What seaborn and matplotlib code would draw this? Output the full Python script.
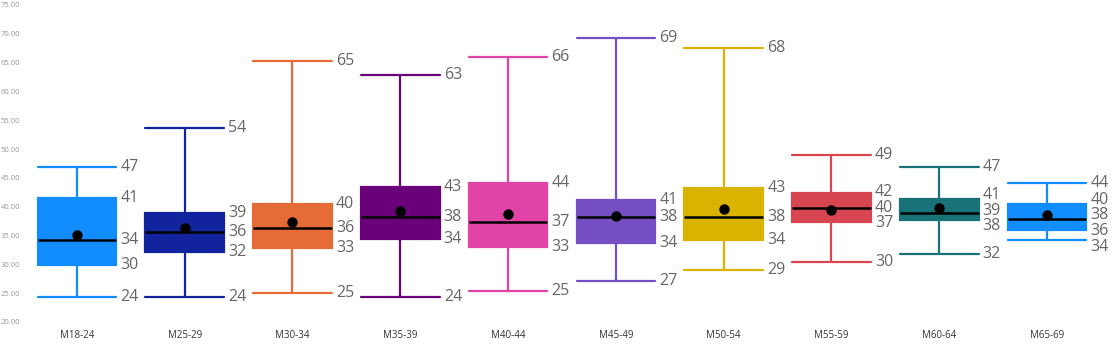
import pandas as pd
import numpy as np
import seaborn as sns
import matplotlib.pyplot as plt

groups = ["M18-24", "M25-29", "M30-34", "M35-39", "M40-44",
          "M45-49", "M50-54", "M55-59", "M60-64", "M65-69"]
whisker_low = [24.4, 24.4, 25.0, 24.4, 25.4, 27.1, 29.0, 30.4, 31.8, 34.2]
q1 = [29.9, 32.1, 32.8, 34.4, 33.0, 33.7, 34.2, 37.3, 37.7, 36.0]
median = [34.2, 35.6, 36.3, 38.2, 37.3, 38.2, 38.2, 39.8, 38.9, 37.9]
q3 = [41.45, 38.9, 40.4, 43.45, 44.1, 41.2, 43.2, 42.4, 41.3, 40.45]
whisker_high = [46.9, 53.7, 65.3, 62.9, 66.0, 69.3, 67.5, 49.0, 46.9, 44.1]
mean = [35.1, 36.3, 37.3, 39.3, 38.7, 38.4, 39.6, 39.4, 39.8, 38.6]
colors = ["#118DFF", "#12239E", "#E66C37", "#6B007B", "#E044A7",
          "#744EC2", "#D9B300", "#D64550", "#197278", "#118DFF"]

# five summary points per group -> quartiles come out exactly
rows = []
for g, lo, a, m, b, hi in zip(groups, whisker_low, q1, median, q3, whisker_high):
    for v in (lo, a, m, b, hi):
        rows.append({"group": g, "value": v})
df = pd.DataFrame(rows)
means = pd.DataFrame({"group": groups, "mean": mean})

sns.set_style("white")
plt.rcParams["font.family"] = ["Open Sans", "DejaVu Sans"]

fig = plt.figure(figsize=(11.17, 3.53), dpi=100)
ax = fig.add_axes([0.0206, 0.088, 0.965, 0.898])

width = 0.73
for g, c in zip(groups, colors):
    sns.boxplot(
        data=df[df["group"] == g], x="group", y="value", order=groups,
        color=c, linecolor=c, saturation=1, width=width, whis=np.inf,
        linewidth=1.6, capwidths=width, fliersize=0,
        medianprops={"color": "black", "linewidth": 1.8},
        ax=ax,
    )

sns.stripplot(data=means, x="group", y="mean", order=groups, jitter=False,
              color="black", size=7.5, zorder=5, ax=ax)


def spread(vals, gap):
    vals = sorted(vals, reverse=True)
    pos = list(vals)
    for _ in range(40):
        for k in range(len(pos) - 1):
            d = pos[k] - pos[k + 1]
            if d < gap:
                s = (gap - d) / 2
                pos[k] += s
                pos[k + 1] -= s
    return list(zip(vals, pos))


for i in range(len(groups)):
    vals = [whisker_high[i], q3[i], median[i], q1[i], whisker_low[i]]
    for v, p in spread(vals, 2.7):
        ax.annotate(f"{v:.0f}", xy=(i + width / 2, p), xytext=(3, 0),
                    textcoords="offset points", va="center", ha="left",
                    fontsize=11.5, color="#666666")

ax.set_ylim(20, 75)
ax.set_xlim(-0.5, len(groups) - 0.5)
ax.set_yticks(np.arange(20, 76, 5))
ax.set_yticklabels([f"{t:.2f}" for t in np.arange(20, 76, 5)])
ax.tick_params(axis="y", labelsize=5.5, labelcolor="#999999", length=0, pad=2)
ax.tick_params(axis="x", labelsize=7, labelcolor="#333333", length=0, pad=6)
ax.set_xlabel("")
ax.set_ylabel("")
sns.despine(ax=ax, left=True, bottom=True)

fig.savefig("out.png", dpi=100)
